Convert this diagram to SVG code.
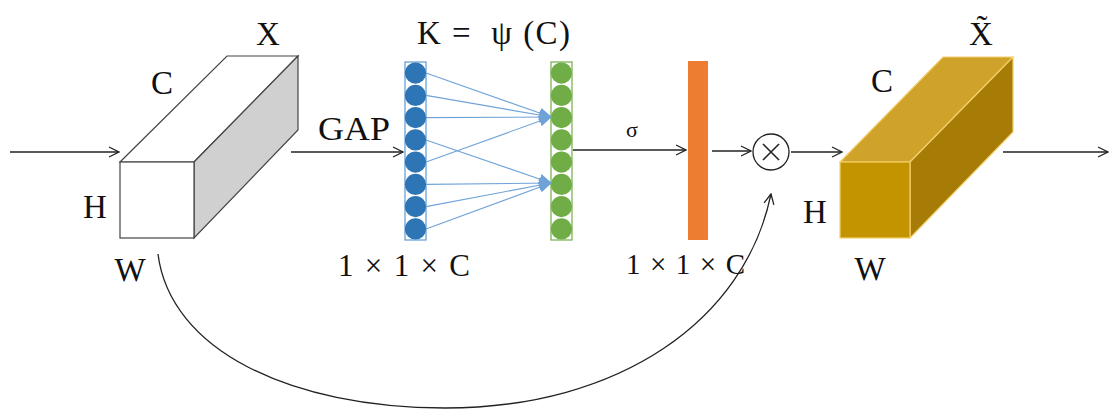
<svg xmlns="http://www.w3.org/2000/svg" width="1110" height="418" viewBox="0 0 1110 418">
<defs>
<style>
.t{font-family:"Liberation Serif","Times New Roman",serif;fill:#111;}
.big{font-size:33px;}
.conn{stroke:#222;stroke-width:1.3;fill:none;}
.nn{stroke:#6fa3d8;stroke-width:1.1;fill:none;}
</style>
<marker id="ah" viewBox="0 0 12 12" refX="11" refY="6" markerWidth="12" markerHeight="12" markerUnits="userSpaceOnUse" orient="auto">
<path d="M1,1 L11,6 L1,11" fill="none" stroke="#222" stroke-width="1.3"/>
</marker>
<marker id="ahb" viewBox="0 0 12 12" refX="11" refY="6" markerWidth="13" markerHeight="13" markerUnits="userSpaceOnUse" orient="auto">
<path d="M0,1 L12,6 L0,11 Z" fill="#6fa3d8" stroke="none"/>
</marker>
</defs>
<rect width="1110" height="418" fill="#fff"/>

<g id="input-tensor">
<polygon points="120,162 227,56 298,56 194,162" fill="#fff" stroke="#444" stroke-width="1.2"/>
<polygon points="194,162 298,56 298,130 194,238" fill="#d0d0d0" stroke="#444" stroke-width="1.2"/>
<rect x="120" y="162" width="74" height="76" fill="#fff" stroke="#444" stroke-width="1.2"/>
<text class="t big" x="268" y="45" text-anchor="middle">X</text>
<text class="t big" x="162" y="94" text-anchor="middle">C</text>
<text class="t big" x="95" y="218" text-anchor="middle">H</text>
<text class="t big" x="130" y="281" text-anchor="middle">W</text>
</g>

<g id="gap-vector">
<rect x="405" y="62" width="21" height="178" fill="#fff" stroke="#5b9bd5" stroke-width="1.2"/>
<g fill="#2e75b6">
<circle cx="415.5" cy="73.1" r="10.6"/>
<circle cx="415.5" cy="95.4" r="10.6"/>
<circle cx="415.5" cy="117.6" r="10.6"/>
<circle cx="415.5" cy="139.9" r="10.6"/>
<circle cx="415.5" cy="162.1" r="10.6"/>
<circle cx="415.5" cy="184.4" r="10.6"/>
<circle cx="415.5" cy="206.6" r="10.6"/>
<circle cx="415.5" cy="228.9" r="10.6"/>
</g>
<text class="t" font-size="31" x="338" y="276" textLength="132" lengthAdjust="spacing">1 × 1 × C</text>
</g>

<g id="conv-vector">
<rect x="551" y="62" width="21" height="178" fill="#fff" stroke="#70ad47" stroke-width="1.2"/>
<g fill="#70ad47">
<circle cx="561.5" cy="73.1" r="10.6"/>
<circle cx="561.5" cy="95.4" r="10.6"/>
<circle cx="561.5" cy="117.6" r="10.6"/>
<circle cx="561.5" cy="139.9" r="10.6"/>
<circle cx="561.5" cy="162.1" r="10.6"/>
<circle cx="561.5" cy="184.4" r="10.6"/>
<circle cx="561.5" cy="206.6" r="10.6"/>
<circle cx="561.5" cy="228.9" r="10.6"/>
</g>
<text class="t big" x="417" y="44" xml:space="preserve" textLength="153" lengthAdjust="spacing">K =  ψ (C)</text>
</g>

<g id="sigmoid-weights">
<rect x="688" y="61" width="20" height="179" fill="#ed7d31"/>
<text class="t" font-size="29" x="626" y="274" textLength="119" lengthAdjust="spacing">1 × 1 × C</text>
</g>

<g id="multiply">
<circle cx="771" cy="152" r="18" fill="#fff" stroke="#222" stroke-width="1.3"/>
<path d="M763,144 L779,160 M779,144 L763,160" stroke="#222" stroke-width="1.6"/>
</g>

<g id="output-tensor">
<polygon points="840,162 943,57 1013,57 910,162" fill="#cfa22a" stroke="#f3cf6a" stroke-width="1.2"/>
<polygon points="910,162 1013,57 1013,132 910,238" fill="#a67c07" stroke="#f3cf6a" stroke-width="1.2"/>
<rect x="840" y="162" width="70" height="76" fill="#c39300" stroke="#f3cf6a" stroke-width="1.2"/>
<text class="t big" x="981" y="45" text-anchor="middle">X&#771;</text>
<text class="t big" x="882" y="92" text-anchor="middle">C</text>
<text class="t big" x="815" y="223" text-anchor="middle">H</text>
<text class="t big" x="870" y="280" text-anchor="middle">W</text>
</g>

<g id="connectors">
<line class="conn" x1="10" y1="152" x2="119" y2="152" marker-end="url(#ah)"/>
<line class="conn" x1="291" y1="152" x2="403" y2="152" marker-end="url(#ah)"/>
<text class="t big" x="318" y="140" textLength="72" lengthAdjust="spacingAndGlyphs">GAP</text>
<line class="conn" x1="573" y1="150" x2="686" y2="150" marker-end="url(#ah)"/>
<text class="t" font-size="22" x="632" y="137" text-anchor="middle">σ</text>
<line class="conn" x1="712" y1="151" x2="751" y2="151" marker-end="url(#ah)"/>
<line class="conn" x1="791" y1="152" x2="842" y2="152" marker-end="url(#ah)"/>
<line class="conn" x1="1003" y1="152" x2="1108" y2="152" marker-end="url(#ah)"/>
<path class="conn" d="M158,254 C170,350 290,408 445,408 C620,408 745,320 771,194" marker-end="url(#ah)"/>
<g class="nn">
<line x1="426" y1="73.1" x2="551" y2="117" marker-end="url(#ahb)"/>
<line x1="426" y1="95.4" x2="551" y2="117" marker-end="url(#ahb)"/>
<line x1="426" y1="117.6" x2="551" y2="117" marker-end="url(#ahb)"/>
<line x1="426" y1="162.1" x2="551" y2="117" marker-end="url(#ahb)"/>
<line x1="426" y1="139.9" x2="551" y2="183" marker-end="url(#ahb)"/>
<line x1="426" y1="184.4" x2="551" y2="183" marker-end="url(#ahb)"/>
<line x1="426" y1="206.6" x2="551" y2="183" marker-end="url(#ahb)"/>
<line x1="426" y1="228.9" x2="551" y2="183" marker-end="url(#ahb)"/>
</g>
</g>
</svg>
